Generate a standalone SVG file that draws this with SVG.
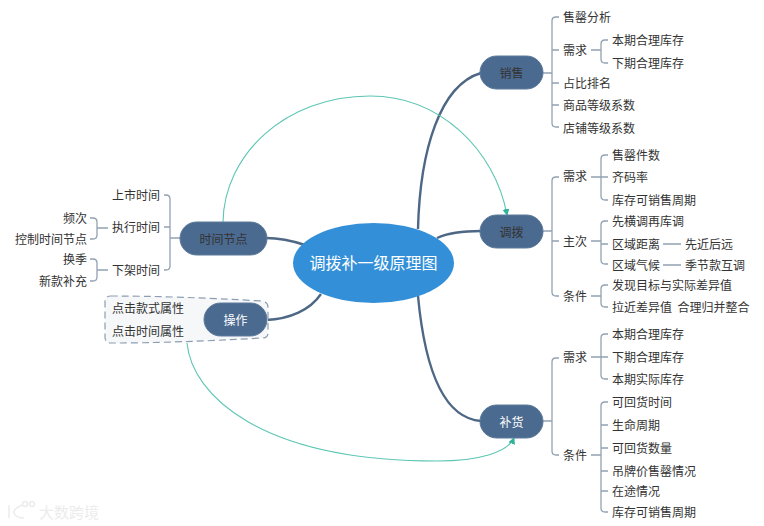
<svg xmlns="http://www.w3.org/2000/svg" width="764" height="526" viewBox="0 0 764 526">
<defs>
<marker id="arr" markerWidth="8" markerHeight="8" refX="6" refY="3.5" orient="auto" markerUnits="userSpaceOnUse"><path d="M0,0 L7,3.5 L0,7 Z" fill="#2fb39b"/></marker>
</defs>
<style>
text{font-family:"Noto Sans CJK SC","Liberation Sans",sans-serif;font-size:12px;fill:#333;dominant-baseline:central}
.e{text-anchor:end}
.m{text-anchor:middle;font-size:12px}
.main{fill:none;stroke:#4d6785;stroke-width:2.4}
.br{fill:none;stroke:#93a1b3;stroke-width:1.3}
.rel{fill:none;stroke:#5cc6b3;stroke-width:1.1}
.n{fill:#4a6a90;stroke:#5d7a9c;stroke-width:1}
.wm{fill:none;stroke:#ececec;stroke-width:1.5}
</style>
<rect width="764" height="526" fill="#fff"/>
<g id="connectors">
<path class="main" d="M418,229 C420,150 440,85 481,73"/>
<path class="main" d="M437,238 C450,232 465,231 481,231"/>
<path class="main" d="M418,296 C424,360 440,418 481,421"/>
<path class="main" d="M266,238 C280,238 293,241 305,245"/>
<path class="main" d="M266,320 C290,319 310,310 321,294"/>
<!-- sales -->
<path class="br" d="M543,73H552M559,17H556Q552,17 552,21V123Q552,127 556,127H559M552,50H559M552,83H559M552,105H559"/>
<path class="br" d="M591,50H601M608,40H605Q601,40 601,44V59Q601,63 605,63H608"/>
<!-- transfer -->
<path class="br" d="M543,231H552M559,177H556Q552,177 552,181V292Q552,296 556,296H559M552,241H559"/>
<path class="br" d="M591,177H608M608,155H605Q601,155 601,159V196Q601,200 605,200H608"/>
<path class="br" d="M591,241H601M608,221H605Q601,221 601,225V260Q601,264 605,264H608M601,244H608"/>
<path class="br" d="M663,244H681M663,265H681"/>
<path class="br" d="M591,296H601M608,285H605Q601,285 601,289V303Q601,307 605,307H608"/>
<!-- replenish -->
<path class="br" d="M543,421H552M559,358H556Q552,358 552,362V451Q552,455 556,455H559"/>
<path class="br" d="M591,357H608M608,334H605Q601,334 601,338V375Q601,379 605,379H608"/>
<path class="br" d="M591,455H601M608,402H605Q601,402 601,406V508Q601,512 605,512H608M601,425H608M601,448H608M601,471H608M601,491H608"/>
<!-- time -->
<path class="br" d="M180,238H170M164,195H166Q170,195 170,199V266Q170,270 166,270H164M170,227H164"/>
<path class="br" d="M108,228H97M90,218H93Q97,218 97,222V235Q97,239 93,239H90"/>
<path class="br" d="M108,270H97M90,259H93Q97,259 97,263V277Q97,281 93,281H90"/>
<!-- op -->
<path class="br" d="M204,320H194M188,308H190Q194,308 194,312V327Q194,331 190,331H188"/>
<path class="rel" marker-end="url(#arr)" d="M223,222 C224,155 285,96 370,96 C440,96 495,150 507,215"/>
<path class="rel" marker-end="url(#arr)" d="M187,343 C192,395 260,461 437,461 C480,461 508,452 514,438"/>
</g>
<g id="op-boundary"><path d="M111,296 Q175,296 262,301 Q268,302 268,307 V333 Q268,338 262,338 Q175,343 111,343 Q105,343 105,337 V302 Q105,296 111,296 Z" fill="#f6f7f9" stroke="#8d9db2" stroke-width="1.2" stroke-dasharray="7 4"/></g>
<g id="central"><ellipse cx="373.5" cy="263" rx="80.5" ry="40" fill="#3390d8"/><text x="373.5" y="262" text-anchor="middle" style="font-size:16px;fill:#fff">调拨补一级原理图</text></g>
<g id="sales"><rect class="n" x="480" y="56" width="63" height="33" rx="16.5"/><text class="m" x="511.5" y="72">销售</text></g>
<g id="transfer"><rect class="n" x="480" y="215" width="63" height="33" rx="16.5"/><text class="m" x="511.5" y="231">调拨</text></g>
<g id="replenish"><rect class="n" x="480" y="405" width="63" height="33" rx="16.5"/><text class="m" x="511.5" y="421" style="fill:#fff">补货</text></g>
<g id="time"><rect class="n" x="180" y="222" width="87" height="33" rx="16.5"/><text class="m" x="223.5" y="238">时间节点</text></g>
<g id="operate"><rect class="n" x="204" y="303" width="63" height="33" rx="16.5"/><text class="m" x="235.5" y="319" style="fill:#fff">操作</text></g>
<g id="sales-items">
<text x="563" y="16">售罄分析</text><text x="563" y="49">需求</text><text x="612" y="39">本期合理库存</text><text x="612" y="62">下期合理库存</text><text x="563" y="82">占比排名</text><text x="563" y="104">商品等级系数</text><text x="563" y="127">店铺等级系数</text>
</g>
<g id="transfer-items">
<text x="563" y="175">需求</text><text x="612" y="154">售罄件数</text><text x="612" y="176">齐码率</text><text x="612" y="199">库存可销售周期</text>
<text x="563" y="240">主次</text><text x="612" y="220">先横调再库调</text><text x="612" y="243">区域距离</text><text x="685" y="243">先近后远</text><text x="612" y="264">区域气候</text><text x="685" y="264">季节款互调</text>
<text x="563" y="295">条件</text><text x="612" y="284">发现目标与实际差异值</text><text x="612" y="306" xml:space="preserve">拉近差异值  合理归并整合</text>
</g>
<g id="replenish-items">
<text x="563" y="356">需求</text><text x="612" y="333">本期合理库存</text><text x="612" y="356">下期合理库存</text><text x="612" y="378">本期实际库存</text>
<text x="563" y="454">条件</text><text x="612" y="401">可回货时间</text><text x="612" y="424">生命周期</text><text x="612" y="447">可回货数量</text><text x="612" y="470">吊牌价售罄情况</text><text x="612" y="490">在途情况</text><text x="612" y="511">库存可销售周期</text>
</g>
<g id="time-items">
<text class="e" x="160" y="194">上市时间</text><text class="e" x="160" y="226">执行时间</text><text class="e" x="160" y="269">下架时间</text>
<text class="e" x="87" y="217">频次</text><text class="e" x="87" y="238">控制时间节点</text><text class="e" x="87" y="258">换季</text><text class="e" x="87" y="280">新款补充</text>
</g>
<g id="operate-items"><text class="e" x="184" y="307">点击款式属性</text><text class="e" x="184" y="330">点击时间属性</text></g>
<g id="watermark">
<path class="wm" d="M9,505 V518 M22,505 Q13,509 14,513 Q16,518 24,518"/><circle class="wm" cx="25" cy="504" r="2.5"/><circle class="wm" cx="32" cy="504" r="2.5"/>
<text x="39" y="511" style="font-size:15px;fill:#ececec">大数跨境</text>
</g>
</svg>
